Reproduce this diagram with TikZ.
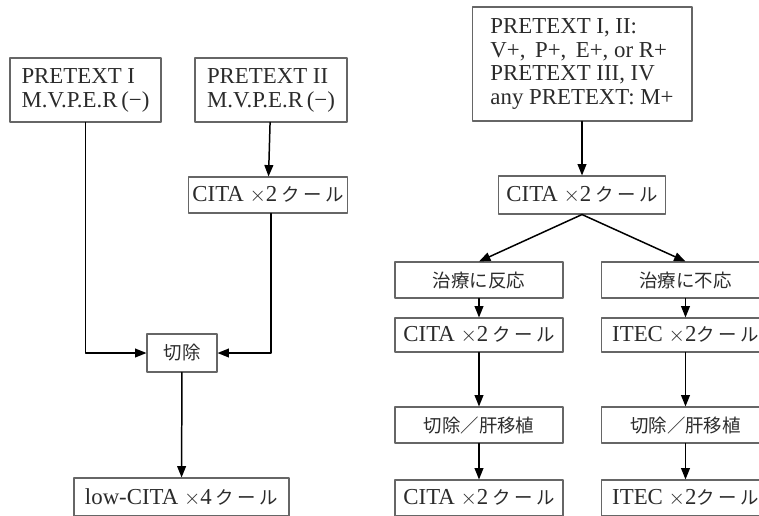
\documentclass[tikz,border=0pt]{standalone}
\usepackage{fontspec}
\setmainfont{Liberation Serif}
\newfontfamily\jp{Noto Sans CJK JP}
\usetikzlibrary{arrows.meta}
\definecolor{Ink}{HTML}{2b2b2b}

% Japanese runs are set a little smaller than the Latin text
\newcommand{\jpt}[1]{{\jp\fontsize{10.5}{13}\selectfont #1}}
\newcommand{\kur}{\jpt{ク\hspace{2pt}ー\hspace{2pt}ル}}

\tikzset{
    box/.style={draw=black!60,line width=0.6pt,text=Ink,inner sep=2pt,
        font=\fontsize{13}{13.6}\selectfont,align=center},
    flow/.style={->,line width=0.85pt,color=black},
}

\begin{document}
\begin{tikzpicture}[line cap=round,line join=round,>={Triangle[length=6.5pt,width=5pt]},x=0.02cm,y=-0.02cm]
    \useasboundingbox (0,0) rectangle (759,515);
    \clip (0,0) rectangle (759,515);

    % left branch
    \node[box,minimum width=3.02cm,minimum height=1.28cm,align=left] (pt1) at (85.5,90)
        {PRETEXT I\\M.V.P.E.R\,(−)};
    \node[box,minimum width=3.04cm,minimum height=1.28cm,align=left] (pt2) at (271,90)
        {PRETEXT II\\M.V.P.E.R\,(−)};
    \node[box,minimum width=3.16cm,minimum height=0.72cm] (cita1) at (268,195)
        {CITA $\times$2\,\kur};
    \node[box,minimum width=1.4cm,minimum height=0.76cm] (cut1) at (182,353) {\jpt{切除}};
    \node[box,minimum width=4.3cm,minimum height=0.76cm] (low) at (181.5,497)
        {low-CITA $\times$4\,\kur};

    \draw[flow] (pt2) -- (cita1);
    \draw[flow] (pt1.south) |- (cut1.west);
    \draw[flow] (pt2.south |- cita1.south) |- (cut1.east);
    \draw[flow] (cut1) -- (low);

    % right branch
    \node[box,minimum width=4.4cm,minimum height=2.28cm,align=left] (big) at (582,64)
        {PRETEXT I, II:\\V+, \,P+, \,E+, or R+\\PRETEXT III, IV\\any PRETEXT: M+};
    \node[box,minimum width=3.34cm,minimum height=0.76cm] (cita2) at (582,195)
        {CITA $\times$2\,\kur};

    \node[box,minimum width=3.36cm,minimum height=0.72cm] (resp) at (479,280) {\jpt{治療に反応}};
    \node[box,minimum width=3.36cm,minimum height=0.68cm] (cita3) at (479,335)
        {CITA $\times$2\,\kur};
    \node[box,minimum width=3.36cm,minimum height=0.72cm] (cut3) at (479,425) {\jpt{切除／肝移植}};
    \node[box,minimum width=3.36cm,minimum height=0.72cm] (cita4) at (479,498)
        {CITA $\times$2\,\kur};

    \node[box,minimum width=3.36cm,minimum height=0.72cm] (nresp) at (685.5,280) {\jpt{治療に不応}};
    \node[box,minimum width=3.36cm,minimum height=0.68cm] (itec1) at (685.5,335)
        {ITEC $\times$2\kur};
    \node[box,minimum width=3.36cm,minimum height=0.72cm] (cut4) at (685.5,425) {\jpt{切除／肝移植}};
    \node[box,minimum width=3.36cm,minimum height=0.72cm] (itec2) at (685.5,498)
        {ITEC $\times$2\kur};

    \draw[flow] (big) -- (cita2);
    \draw[flow] (cita2.south) -- (resp.north);
    \draw[flow] (cita2.south) -- (nresp.north);
    \foreach \a/\b in {resp/cita3,cita3/cut3,cut3/cita4,nresp/itec1,itec1/cut4,cut4/itec2}
        \draw[flow] (\a) -- (\b);
\end{tikzpicture}
\end{document}
